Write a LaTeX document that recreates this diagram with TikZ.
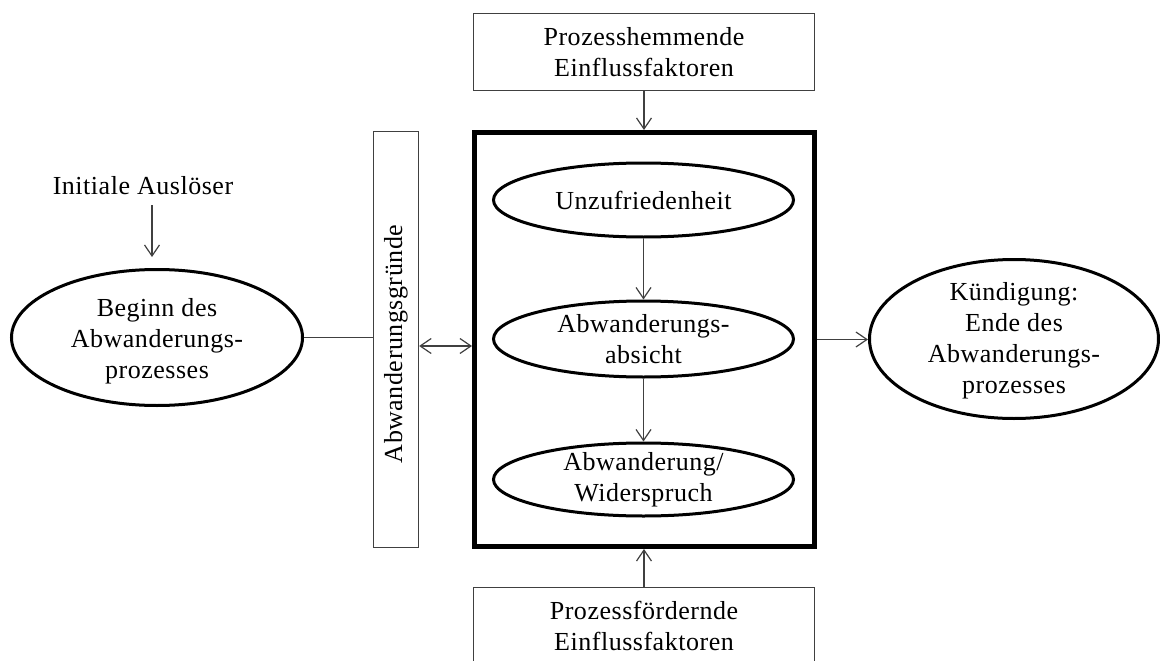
\documentclass[tikz,border=0pt]{standalone}
\usepackage{fontspec}
\setmainfont{Liberation Serif}[LetterSpace=2]
\usetikzlibrary{shapes.geometric,arrows.meta}
\begin{document}
\begin{tikzpicture}[x=1pt,y=-1pt,
  every node/.style={font=\fontsize{26}{31}\selectfont},
  oval/.style={ellipse, draw=black, line width=3pt, inner sep=0pt},
  thinbox/.style={rectangle, draw=black!75, line width=1.3pt, inner sep=0pt},
  phasebox/.style={rectangle, draw=black, line width=5pt, inner sep=0pt},
  txt/.style={align=center, inner sep=0pt},
  conn/.style={draw=black!75, line width=1.2pt},
  arr/.style={conn, -{Straight Barb[length=11pt,width=15pt]}},
  dblarr/.style={conn, {Straight Barb[length=11pt,width=15pt]}-{Straight Barb[length=11pt,width=15pt]}}]

\clip (0,0) rectangle (1160,661);

% influencing factors above and below
\node[thinbox, minimum width=341pt, minimum height=77pt] (hemm) at (644,52) {};
\node[txt] (hemmtxt) at (hemm) {Prozesshemmende\\Einflussfaktoren};
\node[thinbox, minimum width=341pt, minimum height=77pt] (foerd) at (644,626) {};
\node[txt] (foerdtxt) at (foerd) {Prozessfördernde\\Einflussfaktoren};

% central phase frame
\node[phasebox, minimum width=340pt, minimum height=414pt] (phase) at (644.5,339.5) {};
\node[oval, minimum width=300pt, minimum height=74pt] (unz) at (643.5,200) {};
\node[txt] (unztxt) at (unz) {Unzufriedenheit};
\node[oval, minimum width=300pt, minimum height=76pt] (abs) at (643.5,339) {};
\node[txt] (abstxt) at (abs) {Abwanderungs-\\absicht};
\node[oval, minimum width=300pt, minimum height=73pt] (wid) at (643.5,479.5) {};
\node[txt] (widtxt) at (wid) {Abwanderung/\\Widerspruch};

% reasons bar
\node[thinbox, minimum width=45pt, minimum height=416pt] (gruende) at (396,339.5) {};
\node[txt, rotate=90] (gruendetxt) at (396,344) {Abwanderungsgründe};

% start and end of the process
\node[oval, minimum width=291pt, minimum height=136pt] (beg) at (157,337.5) {};
\node[txt] (begtxt) at (157,341) {Beginn des\\Abwanderungs-\\prozesses};
\node[oval, minimum width=289pt, minimum height=159pt] (ende) at (1014,339) {};
\node[txt] (endetxt) at (1014,341) {Kündigung:\\Ende des\\Abwanderungs-\\prozesses};

\node[txt] (init) at (143,186) {Initiale Auslöser};
\coordinate (trig) at (152,205);

% connectors
\draw[arr, shorten >=11pt] (trig) -- (trig |- beg.north);
\draw[conn] (beg.east) -- (beg.east -| gruende.west);
\draw[dblarr] ([yshift=-6.5pt]gruende.east) -- ([yshift=-6.5pt]gruende.east -| phase.west);
\draw[arr] (phase.east) -- (phase.east -| ende.west);
\draw[arr] (hemm.south) -- (hemm.south |- phase.north);
\draw[arr] (foerd.north) -- (foerd.north |- phase.south);
\draw[arr] (unz.south) -- (abs.north);
\draw[arr] (abs.south) -- (wid.north);
\end{tikzpicture}
\end{document}
